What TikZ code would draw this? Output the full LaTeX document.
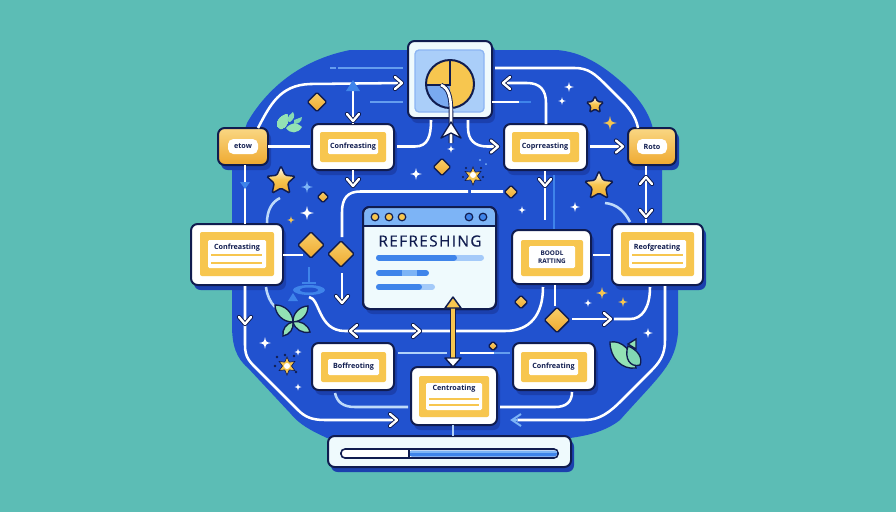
\documentclass[tikz,border=0pt]{standalone}
\usepackage{fontspec}
\setmainfont{Open Sans}
\usetikzlibrary{shapes.geometric,calc}
\definecolor{bgteal}{HTML}{5CBDB5}
\definecolor{royal}{HTML}{2152CF}
\definecolor{bshade}{HTML}{1B40AE}
\definecolor{ink}{HTML}{101C4F}
\definecolor{gold}{HTML}{F7C64F}
\definecolor{goldd}{HTML}{EFA92F}
\definecolor{skyb}{HTML}{7DB4F6}
\definecolor{midb}{HTML}{3F84EA}
\definecolor{pale}{HTML}{EFFAFD}
\definecolor{leafg}{HTML}{93E2B4}
\tikzset{
  boxw/.style={draw=ink,line width=1.5pt,fill=white,rounded corners=5pt,inner sep=0pt,outer sep=0pt},
  boxg/.style={draw=ink,line width=1.5pt,top color=gold!70!white,bottom color=goldd,rounded corners=5pt,inner sep=0pt,outer sep=0pt},
  boxy/.style={fill=gold,rounded corners=1.5pt,inner sep=0pt,outer sep=0pt},
  boxt/.style={fill=white,rounded corners=1pt,inner sep=0pt,outer sep=0pt,text=ink,font=\fontsize{5.4}{6.4}\selectfont\bfseries,align=center},
  conn/.style={white,line width=1.9pt},
  dm/.style={diamond,aspect=1,draw=ink,line width=1.1pt,top color=gold!85!white,bottom color=goldd,inner sep=0pt,rounded corners=1pt},
  st/.style={star,star points=5,star point ratio=2.1,draw=ink,line width=1.1pt,top color=white,bottom color=goldd,middle color=gold,inner sep=0pt,rounded corners=1pt},
}
\newcommand\rbox[6]{%
  \fill[bshade,rounded corners=5pt] (#2+3,#3+4) rectangle (#4+3,#5+5);
  \node[#6,minimum width={(#4-#2)*0.75pt},minimum height={(#5-#3)*0.75pt}] (#1) at ({(#2+#4)/2},{(#3+#5)/2}) {};}
\newcommand\lbl[7]{%
  \node[#6,minimum width={(#4-#2)*0.75pt},minimum height={(#5-#3)*0.75pt}] (#1) at ({(#2+#4)/2},{(#3+#5)/2}) {#7};}
\newcommand\spk[4]{%
  \fill[#4] (#1,#2-#3) .. controls ({#1+0.16*#3},{#2-0.16*#3}) .. (#1+#3,#2) .. controls ({#1+0.16*#3},{#2+0.16*#3}) .. (#1,#2+#3) .. controls ({#1-0.16*#3},{#2+0.16*#3}) .. (#1-#3,#2) .. controls ({#1-0.16*#3},{#2-0.16*#3}) .. (#1,#2-#3) -- cycle;}
\newcommand\chev[5][white]{%
  \draw[ink,line width=3.2pt,line cap=round,line join=round] ({#2-7*#4-6*#5},{#3-7*#5+6*#4}) -- (#2,#3) -- ({#2-7*#4+6*#5},{#3-7*#5-6*#4});
  \draw[#1,line width=1.8pt,line cap=round,line join=round] ({#2-7*#4-6*#5},{#3-7*#5+6*#4}) -- (#2,#3) -- ({#2-7*#4+6*#5},{#3-7*#5-6*#4});}
\newcommand\leaf[6][leafg]{%
  \draw[fill=#1,draw=ink,line width=1pt] (#2,#3) to[bend left=#6] (#4,#5) to[bend left=#6] (#2,#3);}
\begin{document}
\begin{tikzpicture}[x=0.75pt,y=-0.75pt]
\useasboundingbox (0,0) rectangle (896,512);
\fill[bgteal] (0,0) rectangle (896,512);
% blue field
\fill[royal] (350,50) -- (557,50) .. controls (580,52) and (600,62) .. (627,87) .. controls (640,100) and (648,112) .. (652,125) -- (662,170) -- (662,224) -- (678,285) -- (678,333) .. controls (675,365) and (660,375) .. (620,420) .. controls (605,432) and (585,436) .. (570,438) -- (327,438) .. controls (310,430) and (300,425) .. (290,413) -- (248,368) .. controls (236,358) and (232,345) .. (232,325) -- (232,170) -- (247,123) .. controls (260,100) and (290,62) .. (350,50) -- cycle;
% boxes
\rbox{img}{408}{41}{492}{118}{boxw,fill=pale}
\rbox{sl}{218}{128}{268}{165}{boxg}
\rbox{sr}{628}{128}{676}{165}{boxg}
\rbox{ba}{312}{124}{394}{170}{boxw}
\rbox{bb}{504}{124}{587}{170}{boxw}
\rbox{bl}{191}{224}{283}{285}{boxw}
\rbox{brr}{612}{224}{703}{285}{boxw}
\rbox{bm}{512}{230}{591}{284}{boxw}
\rbox{bc}{312}{343}{394}{390}{boxw}
\rbox{bd}{411}{367}{497}{425}{boxw}
\rbox{be}{513}{343}{595}{390}{boxw}
\rbox{pb}{328}{436}{571}{467}{boxw,fill=pale}
\rbox{win}{363}{207}{496}{309}{boxw,fill=pale}
% inner labels
\lbl{slt}{228}{139}{258}{154}{boxt,rounded corners=4pt}{etow}
\lbl{srt}{637}{139}{667}{154}{boxt,rounded corners=4pt}{Roto}
\lbl{ay}{320}{132}{386}{162}{boxy}{}
\lbl{at}{328}{139}{378}{154}{boxt}{Confreasting}
\lbl{by}{512}{132}{579}{162}{boxy}{}
\lbl{bt}{520}{139}{570}{154}{boxt}{Coprreasting}
\lbl{ly}{200}{232}{274}{276}{boxy}{}
\lbl{lw}{208}{240}{266}{268}{boxt}{}
\node[boxt,fill=none] (lt) at (237,248) {Confreasting};
\lbl{ry}{621}{232}{694}{276}{boxy}{}
\lbl{rw}{629}{240}{686}{268}{boxt}{}
\node[boxt,fill=none] (rt) at (657,248) {Reofgreating};
\lbl{my}{521}{240}{583}{276}{boxy}{}
\lbl{mt}{529}{246}{575}{268}{boxt,font=\fontsize{4.8}{5.6}\selectfont\bfseries}{BOODL\\RATTING}
\lbl{cy}{321}{352}{386}{382}{boxy}{}
\lbl{ct}{328}{359}{379}{375}{boxt}{Boffreoting}
\lbl{dy}{419}{376}{489}{417}{boxy}{}
\lbl{dw}{426}{383}{482}{410}{boxt}{}
\node[boxt,fill=none] (dt) at (454,389) {Centroating};
\lbl{ey}{521}{352}{587}{382}{boxy}{}
\lbl{et}{529}{359}{578}{375}{boxt}{Confreating}
\foreach \xa/\xb/\yy in {211/262/255,211/262/263,632/683/255,632/683/263,429/479/399,429/479/405}
  \draw[gold,line width=1.3pt] (\xa,\yy) -- (\xb,\yy);
% progress bar
\draw[ink,line width=1.2pt,fill=white,rounded corners=3pt] (341,449) rectangle (558,458);
\fill[midb,rounded corners=2pt] (409,450.5) rectangle (557,456.5);
\fill[skyb] (409,450.5) rectangle (557,452.5);
\draw[ink,line width=0.9pt] (409,449) -- (409,458);
% window
\fill[skyb,rounded corners=5pt] (364,208) -- (495,208) -- (495,226) -- (364,226) -- cycle;
\fill[skyb] (364,218) rectangle (495,226);
\draw[ink,line width=1.2pt] (363.5,226) -- (495.5,226);
\draw[ink,line width=1.5pt,rounded corners=5pt] (363,207) rectangle (496,309);
\foreach \xx/\cc in {375/gold,389/gold,402/gold,469/midb,483/midb}
  \draw[ink,line width=0.9pt,fill=\cc] (\xx,217) circle (3.8);
\node[text=ink,inner sep=0pt,font=\fontsize{11.5}{13}\selectfont\addfontfeature{LetterSpace=9,FakeBold=0.4}] (wt) at (430,241) {REFRESHING};
\draw[skyb!70!white,line width=4.5pt,line cap=round] (379,257.5) -- (481,257.5);
\draw[midb,line width=4.5pt,line cap=round] (379,257.5) -- (454,257.5);
\draw[midb,line width=4.5pt,line cap=round] (379,273) -- (426,273);
\draw[skyb,line width=4.5pt] (402,273) -- (417,273);
\draw[skyb!70!white,line width=4.5pt,line cap=round] (379,287) -- (432,287);
\draw[midb,line width=4.5pt,line cap=round] (379,287) -- (419,287);
% image panel
\draw[midb!60!white,line width=1pt,fill=skyb!65!white,rounded corners=3pt] (415,50) rectangle (484,112);
\fill[gold] (450,84) circle (24);
\fill[midb!70!white] (426,84) -- (450,84) -- (450,108) .. controls (436,108) and (426,96) .. (426,84) -- cycle;
\draw[ink,line width=1.5pt] (450,84) circle (24);
\draw[ink,line width=1.5pt] (450,60) -- (450,85) -- (426,85);
% connectors
\coordinate (t1) at (402,83);
\draw[conn] (258,128) .. controls (270,105) and (280,85) .. (310,84) -- (t1);
\chev{402}{83}{1}{0}
\draw[conn] (353,88) -- (ba.north);
\fill[midb] (353,80) -- (360,91) -- (346,91) -- cycle;
\chev{353}{121}{0}{1}
\draw[midb!80!white,line width=1.5pt] (330,68) -- (336,68) (338,68) -- (403,68);
\draw[midb!80!white,line width=1.5pt] (370,102) -- (403,102);
\draw[conn] (sl.east) -- (310,146.5);
\draw[conn] (397,146.5) -- (415,146.5) .. controls (428,146.5) and (431,136) .. (431,120);
\draw[conn] (ba.south) -- (353,186);
\chev{353}{186}{0}{1}
\draw[conn] (245,165) -- (245,224);
\fill[midb] (245,189) -- (240,182) -- (250,182) -- cycle;
\draw[conn,skyb!50!white] (280,198) .. controls (272,202) and (267,210) .. (267,223);
\draw[conn] (283,255) -- (303,255);
\draw[conn] (342,237) -- (342,212) .. controls (342,198) and (348,191.5) .. (360,191.5) -- (468,191.5) (471,191.5) -- (503,191.5);
\draw[conn] (342,273) -- (342,300);
\chev{342}{303}{0}{1}
\draw[conn] (495,68) -- (575,68) .. controls (588,68) and (595,74) .. (605,84) -- (625,104) .. controls (632,112) and (636,118) .. (638,128);
\draw[conn] (546,124) -- (546,103) .. controls (546,90) and (540,83) .. (527,83) -- (503,83);
\chev{503}{83}{-1}{0}
\draw[conn] (492,102) -- (519,102);
\draw[midb,line width=1.5pt] (519,102) -- (531,102);
\draw[conn] (468,120) -- (468,128) .. controls (468,140) and (475,146.5) .. (487,146.5) -- (498,146.5);
\chev{498}{146.5}{1}{0}
\draw[conn] (590,146.5) -- (623,146.5);
\chev{623}{146.5}{1}{0}
\draw[conn] (545,171) -- (545,220);
\chev{545}{186}{0}{1}
\draw[midb,line width=1.5pt] (554,175) -- (554,229);
\draw[conn] (646,166) -- (646,223);
\chev{646}{177}{0}{-1}
\chev{646}{217}{0}{1}
\draw[conn,skyb!50!white] (605,203) .. controls (617,204) and (625,212) .. (630,222);
\draw[conn] (593,255) -- (610,255);
% lower left
\draw[conn] (245,286) -- (245,345) .. controls (245,358) and (250,362) .. (258,370) -- (298,410) .. controls (305,417) and (312,420) .. (325,420) -- (397,420);
\chev{245}{324}{0}{1}
\chev{397}{420}{1}{0}
\draw[conn,skyb!50!white] (266,287) .. controls (267,295) and (270,302) .. (275,307);
\draw[conn] (309,297) .. controls (320,298) and (318,331) .. (345,331) -- (416,331) (422,331) -- (450,331) -- (505,331) .. controls (530,331) and (543,315) .. (543,287);
\chev{350}{331}{-1}{0}
\chev{420}{331}{1}{0}
% faint symbol
\draw[midb,line width=1.2pt] (309,267) -- (309,283);
\fill[midb] (302,282) rectangle (316,284);
\fill[midb] (309,290) ellipse (16 and 5);
\fill[royal] (309,290) ellipse (9 and 2.5);
\fill[midb] (293,293) -- (298,301) -- (288,301) -- cycle;
\draw[conn,skyb!60!white] (398,353) -- (447,353);
\draw[conn] (460,353) -- (494,353);
\draw[midb!80!white,line width=1.5pt] (494,353) -- (510,353);
\draw[conn,skyb!50!white] (335,393) .. controls (337,402) and (343,407) .. (355,407) -- (408,407);
\draw[conn] (500,407) -- (555,407) .. controls (566,407) and (572,402) .. (572,392);
\draw[conn] (517,420) -- (585,420) .. controls (600,420) and (610,412) .. (622,400) -- (650,372) .. controls (660,362) and (665,355) .. (665,340) -- (665,286);
\draw[skyb,line width=1.5pt] (521,414) -- (512,420) -- (521,426);
\draw[skyb,line width=1.5pt] (512,420) -- (518,420);
\draw[conn,skyb!60!white] (453,425) -- (453,436);
\draw[conn] (555,285) -- (555,306);
\draw[conn] (572,319) -- (611,319);
\chev{611}{319}{1}{0}
\draw[conn] (614,319) -- (630,319) .. controls (642,319) and (650,308) .. (650,287);
% yellow double arrow
\draw[ink,line width=4.4pt] (453,362) -- (453,305);
\draw[gold,line width=2.6pt] (453,362) -- (453,305);
\draw[ink,line width=1.1pt,fill=gold,line join=round] (453,297) -- (461,308) -- (445,308) -- cycle;
\draw[ink,line width=1.1pt,fill=white,line join=round] (453,367) -- (461,358) -- (445,358) -- cycle;
% white image arrow
\draw[ink,line width=3.4pt] (441,85) .. controls (449,88) and (451,98) .. (451,112) -- (451,143);
\draw[white,line width=2pt] (441,85) .. controls (449,88) and (451,98) .. (451,112) -- (451,143);
\draw[ink,line width=1pt,line join=round,fill=white] (451,122) -- (461,138) -- (451,133) -- (441,138) -- cycle;
\spk{451}{149}{4}{white}
% diamonds
\node[dm,minimum size=20pt*0.75] (d1) at (317,102) {};
\node[dm,minimum size=27pt*0.75] (d2) at (311,245) {};
\node[dm,minimum size=27pt*0.75] (d3) at (341,254) {};
\node[dm,minimum size=18pt*0.75] (d4) at (442,167) {};
\node[dm,minimum size=12pt*0.75] (d5) at (323,197) {};
\node[dm,minimum size=14pt*0.75] (d6) at (511,192) {};
\node[dm,minimum size=14pt*0.75] (d7) at (521,302) {};
\node[dm,minimum size=26pt*0.75] (d8) at (557,320) {};
\node[dm,minimum size=10pt*0.75] (d9) at (493,346) {};
% stars
\node[st,minimum size=30pt*0.75] (s1) at (281,181) {};
\node[st,minimum size=30pt*0.75] (s2) at (599,186) {};
\node[st,minimum size=18pt*0.75] (s3) at (595,105) {};
% sparkles
\foreach \xx/\yy/\rr/\cc in {416/174/6/white,307/213/7/white,307/187/6/skyb,291/220/4/gold,569/87/5/white,562/101/4/white,610/123/7/gold,575/207/5/white,522/210/4/white,265/343/6/white,298/352/3.5/white,298/387/3.5/white,588/303/4/white,602/293/6/gold,623/302/5/gold,648/333/5/white}
  \spk{\xx}{\yy}{\rr}{\cc}
% leaves
\fill[leafg] (277,126) .. controls (277,118) and (282,116) .. (287,114) .. controls (290,120) and (287,128) .. (281,129) -- cycle;
\fill[leafg!80!bgteal] (287,121) .. controls (288,116) and (290,114) .. (293,112) .. controls (296,116) and (293,120) .. (290,122) -- cycle;
\fill[leafg] (286,128) .. controls (292,122) and (296,122) .. (302,127) .. controls (298,134) and (290,134) .. (286,128) -- cycle;
\fill[leafg!70!bgteal] (294,120) -- (302,117) .. controls (302,122) and (298,124) .. (294,124) -- cycle;
\leaf{293}{322}{275}{305}{45}
\leaf{293}{322}{308}{306}{45}
\leaf{293}{322}{283}{336}{45}
\leaf{293}{322}{310}{332}{45}
\draw[fill=leafg,draw=ink,line width=1pt] (610,342) .. controls (622,340) and (632,350) .. (636,368) .. controls (622,370) and (610,358) .. (610,342) -- cycle;
\draw[fill=leafg!70!bgteal,draw=ink,line width=1pt] (628,346) .. controls (638,350) and (643,358) .. (640,365) .. controls (630,368) and (624,358) .. (628,346) -- cycle;
\draw[fill=leafg,draw=ink,line width=1pt] (628,344) -- (636,339) -- (636,349) -- cycle;
% bursts
\node[star,star points=6,star point ratio=2,fill=gold,draw=ink,line width=.5pt,minimum size=18pt*0.75,inner sep=0pt] (b1) at (287,366) {};
\fill[white] (287,366) circle (3);
\foreach \xx/\yy in {277/357,294/356,275/366,296/372,285/355}
  \fill[ink] (\xx,\yy) circle (1.3);
\node[star,star points=6,star point ratio=2,fill=gold,draw=ink,line width=.5pt,minimum size=18pt*0.75,inner sep=0pt] (b2) at (473,176) {};
\fill[white] (473,175) circle (3);
\foreach \xx/\yy in {466/168,481/168,463/177,483/177}
  \fill[ink] (\xx,\yy) circle (1.2);
\fill[skyb] (480,160) circle (1.2) (486,164) circle (1);
\end{tikzpicture}
\end{document}
